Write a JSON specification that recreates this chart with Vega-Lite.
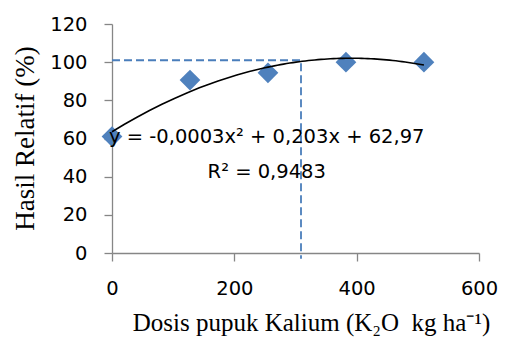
{
  "$schema": "https://vega.github.io/schema/vega-lite/v6.json",
  "width": 367,
  "height": 229,
  "autosize": "none",
  "padding": {"left": 112, "top": 24, "right": 28, "bottom": 91},
  "background": "white",
  "config": {
    "view": {"stroke": null},
    "axis": {
      "grid": false,
      "domainColor": "#868686",
      "tickColor": "#868686",
      "domainWidth": 1.3,
      "tickWidth": 1.3,
      "tickSize": 8,
      "labelOverlap": false,
      "labelFlush": false,
      "labelFont": "DejaVu Sans",
      "labelFontSize": 19.5,
      "labelColor": "#000000",
      "titleFont": "Liberation Serif",
      "titleFontWeight": "normal",
      "titleColor": "#000000"
    }
  },
  "datasets": {
    "obs": [
      {"dosis": 0, "hasil": 61},
      {"dosis": 127.5, "hasil": 90.6},
      {"dosis": 255, "hasil": 94.4},
      {"dosis": 382.5, "hasil": 100},
      {"dosis": 510, "hasil": 100}
    ],
    "ref": [
      {"dosis": 0, "hasil": 101, "o": 1},
      {"dosis": 309, "hasil": 101, "o": 2},
      {"dosis": 309, "hasil": -3, "o": 3}
    ],
    "ann": [
      {"dosis": 253, "hasil": 60.7, "label": "y = -0,0003x² + 0,203x + 62,97"},
      {"dosis": 253, "hasil": 42.3, "label": "R² = 0,9483"}
    ]
  },
  "encoding": {
    "x": {"field": "dosis", "type": "quantitative", "scale": {"domain": [0, 600], "nice": false},
      "axis": {"values": [0, 200, 400, 600], "tickCount": 4, "labelFlush": false, "labelPadding": 18, "title": "Dosis pupuk Kalium (K₂O\u00a0 kg ha⁻¹)", "titleFontSize": 25, "titleX": 199, "titleY": 77, "titleBaseline": "alphabetic", "titleAlign": "center"}},
    "y": {"field": "hasil", "type": "quantitative", "scale": {"domain": [0, 120], "nice": false},
      "axis": {"values": [0, 20, 40, 60, 80, 100, 120], "tickCount": 7, "labelFlush": false, "labelOverlap": false, "labelPadding": 17, "title": "Hasil Relatif (%)", "titleFontSize": 27, "titleAngle": -90, "titleX": -79, "titleY": 114, "titleBaseline": "alphabetic", "titleAlign": "center"}}
  },
  "layer": [
    {
      "data": {"name": "ref"},
      "mark": {"type": "line", "color": "#4a7ebb", "strokeWidth": 1.8, "strokeDash": [8, 4]},
      "encoding": {
        "order": {"field": "o", "type": "quantitative"}
      }
    },
    {
      "data": {"name": "obs"},
      "mark": {"type": "point", "shape": "diamond", "filled": true, "size": 430, "color": "#4f81bd", "opacity": 1},
      "encoding": {}
    },
    {
      "data": {"name": "obs"},
      "transform": [
        {"regression": "hasil", "on": "dosis", "method": "poly", "order": 2, "extent": [0, 510]}
      ],
      "mark": {"type": "line", "color": "#000000", "strokeWidth": 1.6},
      "encoding": {}
    },
    {
      "data": {"name": "ann"},
      "mark": {"type": "text", "font": "DejaVu Sans", "fontSize": 19.5, "align": "center", "baseline": "middle", "color": "#000000"},
      "encoding": {
        "text": {"field": "label", "type": "nominal"}
      }
    }
  ]
}
